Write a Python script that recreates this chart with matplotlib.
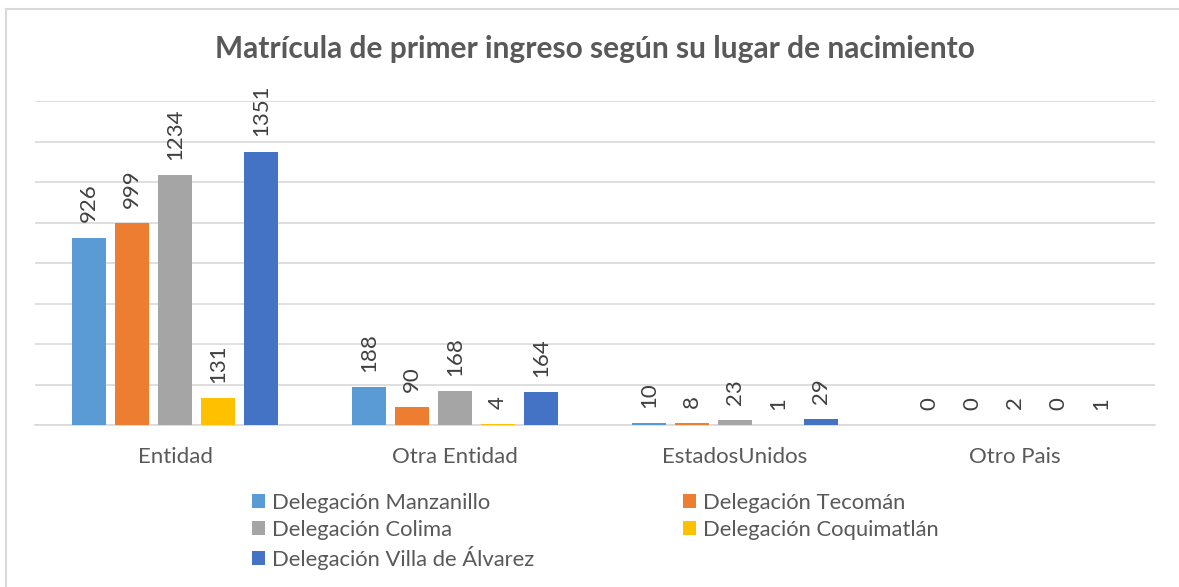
import numpy as np
import matplotlib
matplotlib.use("Agg")
import matplotlib.pyplot as plt
from matplotlib.lines import Line2D

# =========================================
# Data
# =========================================

categories = ["Entidad", "Otra Entidad", "EstadosUnidos", "Otro Pais"]

series_names = [
    "Delegación Manzanillo",
    "Delegación Tecomán",
    "Delegación Colima",
    "Delegación Coquimatlán",
    "Delegación Villa de Álvarez",
]

manzanillo = [926, 188, 10, 0]
tecoman = [999, 90, 8, 0]
colima = [1234, 168, 23, 2]
coquimatlan = [131, 4, 1, 0]
villa_alvarez = [1351, 164, 29, 1]

series_values = [manzanillo, tecoman, colima, coquimatlan, villa_alvarez]
colors = ["#5B9BD5", "#ED7D31", "#A5A5A5", "#FFC000", "#4472C4"]

title = "Matrícula de primer ingreso según su lugar de nacimiento"

plt.rcParams["font.family"] = ["Lato", "DejaVu Sans"]

fig = plt.figure(figsize=(11.79, 5.87), dpi=100)
ax = fig.add_axes([35 / 1179, 1 - 425 / 587, 1120 / 1179, (425 - 101.3) / 587])

x = np.arange(len(categories))
step = 43 / 280
width = 34 / 280

handles = []
for i, (name, vals, col) in enumerate(zip(series_names, series_values, colors)):
    bars = ax.bar(x + (i - 2) * step, vals, width, color=col, label=name, zorder=3)
    ax.bar_label(bars, labels=[str(v) for v in vals], rotation=90, padding=11,
                 fontsize=16, color="#404040")
    handles.append(bars)

ax.set_xlim(-0.5, 3.5)
ax.set_ylim(0, 1600)
ax.set_yticks(np.arange(0, 1601, 200))
ax.yaxis.grid(True, color="#D9D9D9", linewidth=1.2, zorder=0)
ax.tick_params(axis="y", left=False, labelleft=False)
ax.tick_params(axis="x", length=0, pad=16, labelsize=16, labelcolor="#595959")
ax.set_xticks(x)
ax.set_xticklabels(categories)
for side in ["top", "right", "left"]:
    ax.spines[side].set_visible(False)
ax.spines["bottom"].set_color("#D9D9D9")
ax.spines["bottom"].set_linewidth(1.2)

fig.text(595 / 1179, 1 - 49 / 587, title, ha="center", va="center",
         fontsize=21.5, fontweight="bold", color="#595959")

# legend filled row-wise like the original
order = [0, 2, 4, 1, 3]
fig.legend([handles[i] for i in order], [series_names[i] for i in order],
           ncol=2, loc="upper left", bbox_to_anchor=(252 / 1179, 1 - 493 / 587),
           frameon=False, fontsize=15.8, labelcolor="#595959",
           handlelength=0.6, handleheight=0.6, handletextpad=0.3,
           columnspacing=6.8, labelspacing=0.3, borderpad=0, borderaxespad=0)

# outer chart frame (left and top edges visible)
fig.add_artist(Line2D([6 / 1179, 6 / 1179], [0, 1 - 8.5 / 587], color="#D9D9D9", lw=1.5))
fig.add_artist(Line2D([6 / 1179, 1], [1 - 8.5 / 587, 1 - 8.5 / 587], color="#D9D9D9", lw=1.5))

fig.savefig("out.png", dpi=100)
